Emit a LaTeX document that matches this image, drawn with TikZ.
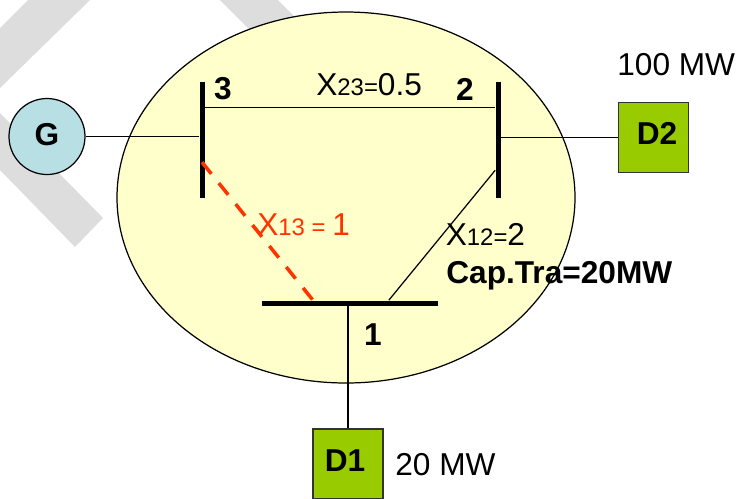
\documentclass[tikz,border=0pt]{standalone}
\usepackage{fontspec}
\setmainfont{Liberation Sans}
\usetikzlibrary{calc}
\definecolor{bandgray}{HTML}{DDDDDD}
\definecolor{areayellow}{HTML}{FFFFCC}
\definecolor{genblue}{HTML}{B8DFE4}
\definecolor{loadgreen}{HTML}{99CC00}
\definecolor{linered}{HTML}{FF3300}
\newcommand{\labsize}{\fontsize{18}{20}\selectfont}
\newcommand{\subsize}{\fontsize{13.6}{15}\selectfont}
\begin{document}
\begin{tikzpicture}[scale=0.2]
  \tikzstyle{every node}+=[inner sep=0pt]
  \tikzstyle{lab}=[anchor=base west,font=\labsize]
  \tikzstyle{num}=[font=\labsize\bfseries]
  \tikzstyle{busv}=[fill=black,minimum width=0.1cm,minimum height=2.32cm]
  \tikzstyle{bush}=[fill=black,minimum width=3.52cm,minimum height=0.1cm]
  \tikzstyle{load}=[draw=black!80,fill=loadgreen,minimum size=1.4cm,line width=0.7pt]
  \tikzstyle{wire}=[black,line width=0.7pt]
  \useasboundingbox (0,0) rectangle (73.6,-49.8);
  \fill [bandgray] (0,-2.8) -- (2.8,0) -- (9,0) -- (0,-8.8) -- cycle;
  \fill [bandgray] (22,0) -- (27.8,0) -- (32,-4.2) -- (26.2,-4.2) -- cycle;
  \fill [bandgray] (0,-11.3) -- (10.3,-21.8) -- (7.5,-24.7) -- (0,-17) -- cycle;
  \draw [black,fill=areayellow,line width=0.7pt] (34.6,-19.75) ellipse (22.9 and 18.55);
  \draw (4.7,-13.65) node (G) [circle,draw=black,fill=genblue,minimum size=1.52cm,line width=0.7pt] {};
  \draw (20.2,-14) node (bus3) [busv] {};
  \draw (49.8,-14) node (bus2) [busv] {};
  \draw (35,-30.3) node (bus1) [bush] {};
  \draw (65.37,-13.75) node (D2) [load] {};
  \draw (34.8,-46.4) node (D1) [load] {};
  \draw [wire] (G.east) -- (G.east -| bus3.west);
  \draw [wire] ($(bus3.north east)!0.22!(bus3.south east)$) -- ($(bus2.north west)!0.22!(bus2.south west)$);
  \draw [wire] (D2.west) -- (D2.west -| bus2.east);
  \draw [wire] (D1.north) -- (D1.north |- bus1.south);
  \draw [wire] ($(bus2.north west)!0.76!(bus2.south west)$) -- ($(bus1.north west)!0.72!(bus1.north east)$);
  \draw [linered,line width=2pt,dash pattern=on 8.5pt off 6.8pt] ($(bus3.north)!0.69!(bus3.south)$) -- ($(bus1.north west)!0.29!(bus1.north east)$);
  \draw (4.7,-13.5) node (labG) [num] {G};
  \draw (65.7,-13.3) node (labD2) [num] {D2};
  \draw (34.5,-46.1) node (labD1) [num] {D1};
  \draw (22.3,-8.9) node (lab3) [num] {3};
  \draw (46.5,-8.9) node (lab2) [num] {2};
  \draw (37.3,-33.5) node (lab1) [num] {1};
  \draw (31.6,-9.5) node (x23) [lab] {X{\subsize 23=}0.5};
  \draw (25.7,-23.5) node (x13) [lab,text=linered] {X{\subsize 13 = }1};
  \draw (44.55,-24.5) node (x12) [lab] {X{\subsize 12=}2};
  \draw (44.6,-28.3) node (cap) [lab,font=\labsize\bfseries] {Cap.Tra=20MW};
  \draw (61.7,-7.5) node (mw100) [lab] {100 MW};
  \draw (39.5,-47.5) node (mw20) [lab] {20 MW};
\end{tikzpicture}
\end{document}
